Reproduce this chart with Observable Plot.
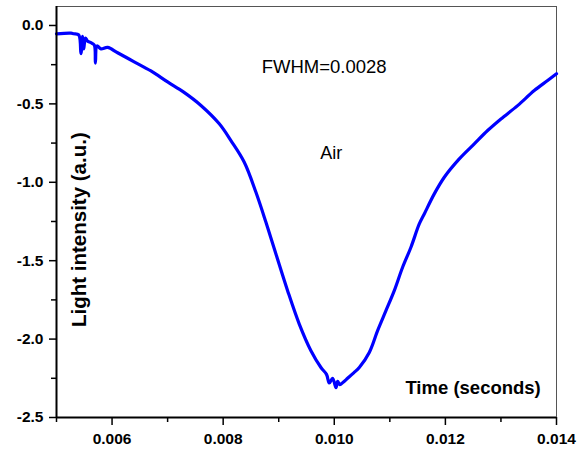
<!DOCTYPE html>
<html>
<head>
<meta charset="utf-8">
<script src="https://cdn.jsdelivr.net/npm/d3@7"></script>
<script src="https://cdn.jsdelivr.net/npm/@observablehq/plot@0.6"></script>
<style>
  html, body { margin: 0; padding: 0; background: #fff; }
</style>
</head>
<body>
<div id="chart"></div>
<script>
// Time (seconds)
const timeValues = [
  0.00500, 0.00526, 0.00531, 0.00540, 0.00544, 0.00547, 0.00549, 0.00552, 0.00556, 0.00562,
  0.00568, 0.00570, 0.00573, 0.00580, 0.00592, 0.00610, 0.00639, 0.00670, 0.00700, 0.00729,
  0.00760, 0.00793, 0.00814, 0.00838, 0.00859, 0.00877, 0.00895, 0.00916, 0.00937, 0.00958,
  0.00976, 0.00986, 0.00991, 0.00997, 0.01003, 0.01006, 0.01010, 0.01016, 0.01024, 0.01035,
  0.01045, 0.01063, 0.01078, 0.01093, 0.01108, 0.01123, 0.01138, 0.01153, 0.01162, 0.01180,
  0.01198, 0.01225, 0.01252, 0.01276, 0.01300, 0.01330, 0.01360, 0.01384, 0.01400
];
// Light intensity (a.u.)
const intensityValues = [
  -0.053, -0.049, -0.053, -0.060, -0.180, -0.070, -0.150, -0.080, -0.100, -0.110,
  -0.125, -0.240, -0.130, -0.149, -0.140, -0.174, -0.230, -0.290, -0.360, -0.425,
  -0.510, -0.627, -0.734, -0.872, -1.064, -1.255, -1.457, -1.691, -1.904, -2.074,
  -2.181, -2.225, -2.280, -2.250, -2.310, -2.270, -2.290, -2.275, -2.250, -2.215,
  -2.181, -2.085, -1.946, -1.819, -1.691, -1.542, -1.414, -1.266, -1.202, -1.074,
  -0.968, -0.851, -0.755, -0.670, -0.596, -0.511, -0.415, -0.351, -0.308
];
// Tick values and labels
const xMajorTicks = [0.006, 0.008, 0.010, 0.012, 0.014];
const xMinorTicks = [0.005, 0.007, 0.009, 0.011, 0.013];
const yMajorTicks = [0.0, -0.5, -1.0, -1.5, -2.0, -2.5];
const yMinorTicks = [-0.25, -0.75, -1.25, -1.75, -2.25];
const xLabel = "Time (seconds)";
const yLabel = "Light intensity (a.u.)";
const note1 = "FWHM=0.0028";
const note2 = "Air";

const data = timeValues.map((t, i) => ({t, v: intensityValues[i]}));
const font = "'Liberation Sans', Arial, sans-serif";

const chart = Plot.plot({
  width: 584,
  height: 450,
  marginLeft: 56,
  marginRight: 28,
  marginTop: 6,
  marginBottom: 33,
  style: {fontFamily: font, background: "#fff", color: "#000"},
  x: {domain: [0.005, 0.014]},
  y: {domain: [-2.5, 0.121]},
  marks: [
    Plot.frame({stroke: "#555", strokeWidth: 1}),
    Plot.line(data, {x: "t", y: "v", stroke: "#0000ff", strokeWidth: 3.2, strokeLinejoin: "round", curve: "catmull-rom"}),
    Plot.axisX({ticks: xMajorTicks, tickSize: 8, tickPadding: 7, strokeWidth: 1.5,
      tickFormat: d => d.toFixed(3), fontSize: 15.5, fontWeight: "bold", label: null}),
    Plot.axisX({ticks: xMinorTicks, tickSize: 5, strokeWidth: 1.5, tickFormat: () => "", label: null}),
    Plot.axisY({ticks: yMajorTicks, tickSize: 7, tickPadding: 6, strokeWidth: 1.5,
      tickFormat: d => d.toFixed(1), fontSize: 15.5, fontWeight: "bold", label: null}),
    Plot.axisY({ticks: yMinorTicks, tickSize: 5, strokeWidth: 1.5, tickFormat: () => "", label: null}),
    Plot.ruleX([0.005], {stroke: "#000", strokeWidth: 2}),
    Plot.ruleY([-2.5], {stroke: "#000", strokeWidth: 2}),
    Plot.text([note1], {x: 0.009817, y: -0.300, text: d => d, textAnchor: "middle", lineAnchor: "bottom",
      fontSize: 18.5, fill: "#000"}),
    Plot.text([note2], {x: 0.009946, y: -0.849, text: d => d, textAnchor: "middle", lineAnchor: "bottom",
      fontSize: 18, fill: "#000"}),
    Plot.text([xLabel], {x: 0.013717, y: -2.347, text: d => d, textAnchor: "end", lineAnchor: "bottom",
      fontSize: 18.5, fontWeight: "bold", fill: "#000"}),
    Plot.text([yLabel], {x: 0.005410, y: -1.302, text: d => d, rotate: -90, textAnchor: "middle", lineAnchor: "middle",
      fontSize: 20.5, fontWeight: "bold", fill: "#000"})
  ]
});
document.getElementById("chart").appendChild(chart);
</script>
</body>
</html>
